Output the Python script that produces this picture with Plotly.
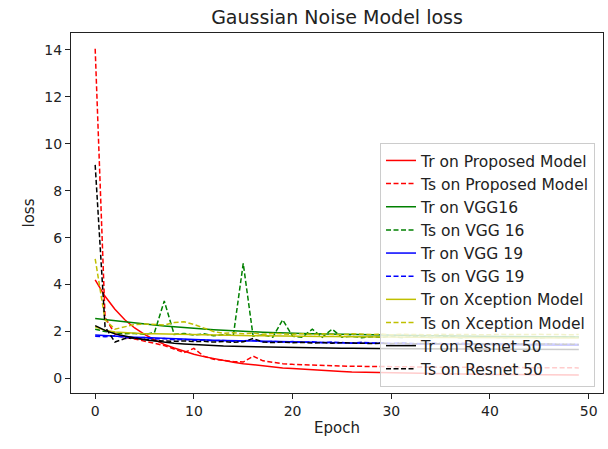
import plotly.graph_objects as go

title = "Gaussian Noise Model loss"
names = ["Tr on Proposed Model", "Ts on Proposed Model", "Tr on VGG16", "Ts on VGG 16",
         "Tr on VGG 19", "Ts on VGG 19", "Tr on Xception Model", "Ts on Xception Model",
         "Tr on Resnet 50", "Ts on Resnet 50"]

red_tr = [4.2,3.5,2.95,2.5,2.15,1.88,1.65,1.45,1.3,1.15,1.03,0.93,0.84,0.76,0.69,0.63,0.58,0.53,0.49,0.45,
          0.42,0.39,0.36,0.34,0.32,0.3,0.28,0.27,0.26,0.25,0.24,0.23,0.22,0.21,0.2,0.2,0.19,0.19,0.18,0.18,
          0.17,0.17,0.17,0.16,0.16,0.16,0.15,0.15,0.15,0.15]
red_ts = [14.05,2.6,1.9,1.75,1.68,1.6,1.5,1.4,1.25,1.1,1.28,0.95,0.82,0.76,0.72,0.7,0.95,0.75,0.68,0.63,
          0.6,0.58,0.56,0.55,0.54,0.53,0.52,0.52,0.51,0.5,0.5,0.5,0.49,0.49,0.48,0.48,0.48,0.47,0.47,0.47,
          0.46,0.46,0.46,0.46,0.45,0.45,0.45,0.45,0.45,0.45]
green_tr = [2.55,2.5,2.45,2.4,2.36,2.32,2.28,2.24,2.2,2.17,2.14,2.11,2.08,2.05,2.03,2.01,1.99,1.97,1.95,1.94,
            1.93,1.92,1.91,1.9,1.89,1.88,1.87,1.86,1.85,1.85,1.84,1.84,1.83,1.83,1.82,1.82,1.81,1.81,1.8,1.8,
            1.8,1.79,1.79,1.79,1.78,1.78,1.78,1.77,1.77,1.77]
green_ts = [2.1,2.0,1.95,1.9,1.92,1.88,1.95,3.3,1.88,1.92,1.85,1.9,1.82,1.86,1.84,4.9,1.8,1.86,1.76,2.5,
            1.8,1.76,2.1,1.75,2.1,1.76,1.8,1.74,1.78,1.75,1.8,1.74,1.77,1.78,1.74,1.76,1.8,1.73,1.76,1.75,
            1.78,1.74,1.76,1.75,1.77,1.73,1.76,1.75,1.74,1.76]
blue_tr = [1.85,1.82,1.8,1.78,1.76,1.74,1.72,1.7,1.69,1.67,1.66,1.64,1.63,1.62,1.61,1.6,1.59,1.58,1.57,1.56,
           1.55,1.54,1.54,1.53,1.52,1.52,1.51,1.5,1.5,1.49,1.49,1.48,1.48,1.47,1.47,1.46,1.46,1.45,1.45,1.45,
           1.44,1.44,1.44,1.43,1.43,1.43,1.42,1.42,1.42,1.42]
blue_ts = [1.8,1.78,1.82,1.75,1.72,1.74,1.68,1.7,1.65,1.66,1.62,1.64,1.6,1.62,1.58,1.6,1.62,1.56,1.58,1.55,
           1.57,1.54,1.56,1.52,1.55,1.53,1.5,1.54,1.51,1.52,1.49,1.52,1.5,1.48,1.51,1.49,1.47,1.5,1.48,1.46,
           1.49,1.47,1.46,1.48,1.45,1.47,1.46,1.45,1.47,1.45]
yellow_tr = [2.2,2.05,1.98,1.95,1.93,1.91,1.9,1.89,1.88,1.87,1.86,1.85,1.84,1.84,1.83,1.83,1.82,1.82,1.81,1.81,
             1.8,1.8,1.79,1.79,1.79,1.78,1.78,1.78,1.77,1.77,1.77,1.76,1.76,1.76,1.76,1.75,1.75,1.75,1.75,1.74,
             1.74,1.74,1.74,1.73,1.73,1.73,1.73,1.72,1.72,1.72]
yellow_ts = [5.1,2.5,2.1,2.2,2.3,2.32,2.3,2.28,2.38,2.42,2.3,2.15,2.0,1.92,1.95,1.9,1.93,1.88,1.92,1.9,
             1.88,1.91,1.87,1.9,1.89,1.86,1.9,1.88,1.87,1.89,1.86,1.88,1.87,1.89,1.86,1.88,1.87,1.86,1.88,1.87,
             1.86,1.88,1.87,1.86,1.87,1.88,1.86,1.87,1.86,1.87]
black_tr = [2.25,2.05,1.9,1.8,1.72,1.65,1.59,1.54,1.5,1.47,1.44,1.42,1.4,1.38,1.37,1.36,1.35,1.34,1.33,1.33,
            1.32,1.31,1.31,1.3,1.3,1.29,1.29,1.28,1.28,1.28,1.27,1.27,1.27,1.26,1.26,1.26,1.26,1.25,1.25,1.25,
            1.25,1.24,1.24,1.24,1.24,1.24,1.23,1.23,1.23,1.23]
black_ts = [9.1,2.2,1.55,1.7,1.72,1.66,1.62,1.6,1.58,1.6,1.57,1.58,1.55,1.57,1.54,1.56,1.7,1.55,1.53,1.55,
            1.52,1.54,1.51,1.53,1.5,1.52,1.5,1.51,1.49,1.5,1.48,1.5,1.47,1.49,1.48,1.47,1.49,1.46,1.48,1.47,
            1.46,1.48,1.46,1.47,1.45,1.47,1.46,1.45,1.46,1.45]

x_ticks = [0, 10, 20, 30, 40, 50]
y_ticks = [0, 2, 4, 6, 8, 10, 12, 14]

series = [red_tr, red_ts, green_tr, green_ts, blue_tr, blue_ts, yellow_tr, yellow_ts, black_tr, black_ts]
colors = ["#ff0000", "#ff0000", "#008000", "#008000", "#0000ff", "#0000ff", "#bfbf00", "#bfbf00", "#000000", "#000000"]
dashes = ["solid", "5px,2.5px"] * 5

fig = go.Figure()
for name, ys, c, d in zip(names, series, colors, dashes):
    fig.add_trace(go.Scatter(x=list(range(len(ys))), y=ys, mode="lines", name=name,
                             line=dict(color=c, width=1.5, dash=d)))

fig.update_layout(
    width=608, height=449,
    margin=dict(l=71, r=5, t=33, b=56),
    paper_bgcolor="white", plot_bgcolor="white",
    font=dict(family="DejaVu Sans", size=14, color="#222222"),
    title=dict(text=title, x=(71 + 603) / 2 / 608, xanchor="center", y=1 - 17 / 449, yanchor="middle",
               font=dict(size=19, family="DejaVu Sans", color="#222222")),
    showlegend=True,
    legend=dict(x=0.985, y=0.017, xanchor="right", yanchor="bottom",
                bgcolor="rgba(255,255,255,0.8)", bordercolor="#cccccc", borderwidth=1,
                font=dict(size=15.5, family="DejaVu Sans", color="#222222"), tracegroupgap=0),
)
fig.update_xaxes(range=[-2.45, 51.45], tickvals=x_ticks, ticks="outside", ticklen=5, tickcolor="#222",
                 showline=True, linecolor="#222", linewidth=1, mirror=True, showgrid=False, zeroline=False,
                 title=dict(text="Epoch", font=dict(size=15), standoff=4))
fig.update_yaxes(range=[-0.62, 14.72], tickvals=y_ticks, ticks="outside", ticklen=5, tickcolor="#222",
                 showline=True, linecolor="#222", linewidth=1, mirror=True, showgrid=False, zeroline=False,
                 title=dict(text="loss", font=dict(size=15), standoff=6))

fig.write_html("out.html")
